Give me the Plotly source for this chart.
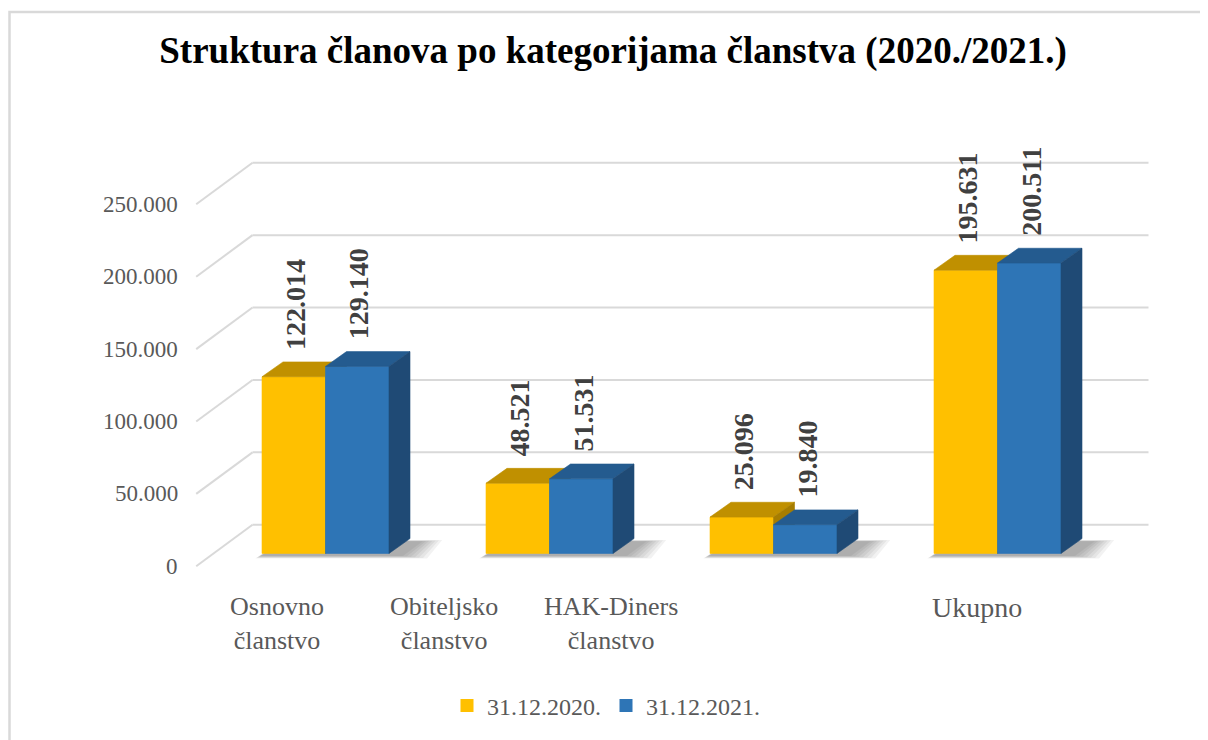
import plotly.graph_objects as go

# ---------------- data ----------------
categories = ["Osnovno članstvo", "Obiteljsko članstvo", "HAK-Diners članstvo", "Ukupno"]
category_lines = ["Osnovno<br>članstvo", "Obiteljsko<br>članstvo", "HAK-Diners<br>članstvo", "Ukupno"]
series_names = ["31.12.2020.", "31.12.2021."]
values_2020 = [122014, 48521, 25096, 195631]
values_2021 = [129140, 51531, 19840, 200511]
tick_values = [0, 50000, 100000, 150000, 200000, 250000]
tick_labels = ["0", "50.000", "100.000", "150.000", "200.000", "250.000"]

# ---------------- layout constants (reference-image pixels) ----------------
PAGE_OFF = 8                      # default body margin of the html page
FIG_W, FIG_H = 1208 - PAGE_OFF, 740 - PAGE_OFF
PLOT_L, PLOT_R, PLOT_T, PLOT_B = 190, 1160, 140, 600   # in page pixels
ML, MR = PLOT_L - PAGE_OFF, 1208 - PLOT_R
MT, MB = PLOT_T - PAGE_OFF, 740 - PLOT_B
PLOT_W = PLOT_R - PLOT_L
PLOT_H = PLOT_B - PLOT_T
PX_PER_CAT = 224.0
CAT0_PX = 325.5
VAL_PER_PX = 50000 / 73.2
ZERO_PX = 558.0

x_range = [(PLOT_L - CAT0_PX) / PX_PER_CAT, (PLOT_R - CAT0_PX) / PX_PER_CAT]
y_range = [-(PLOT_B - ZERO_PX) * VAL_PER_PX, (ZERO_PX - PLOT_T) * VAL_PER_PX]

BAR_W = 0.2835                       # width of one bar (category units)
DX, DY = 21 / PX_PER_CAT, 15 * VAL_PER_PX        # bar depth
BX, BY = 39 / PX_PER_CAT, 29 * VAL_PER_PX        # bar plane -> back wall
FX, FY = -17.3 / PX_PER_CAT, -13 * VAL_PER_PX    # bar plane -> front edge
FLOOR_L, FLOOR_R = -0.5, len(categories) - 0.5
LABEL_X_OFFSET = [-0.217, -0.471, -0.727, -0.092]
LABEL_FONT = [26, 26, 26, 28]

SERIF = "Liberation Serif, Times New Roman, serif"
GRID = "#D9D9D9"
TXT = "#595959"
FRONT = ["#FFC000", "#2E75B6"]
TOP = ["#C09000", "#245B8F"]
SIDE = ["#A67D00", "#1F4A75"]


def px_to_paper_x(px):
    return (px - PLOT_L) / PLOT_W


def px_to_paper_y(py):
    return (PLOT_B - py) / PLOT_H


def polys(list_of_pts):
    xs, ys = [], []
    for pts in list_of_pts:
        for (x, y) in pts:
            xs.append(x)
            ys.append(y)
        xs.append(pts[0][0]); ys.append(pts[0][1])
        xs.append(None); ys.append(None)
    return xs, ys


fig = go.Figure()

# ---------------- soft shadows on the floor ----------------
for k in range(7):
    gx = 0.13 - k * 0.018
    gy = 5000 - k * 650
    shp = []
    for i in range(len(categories)):
        left = i - BAR_W
        right = i + BAR_W
        sx = 0.04
        shp.append([
            (left - 0.03 + k * 0.004, -1200 - gy * 0.45),
            (right + sx + gx, -1200 - gy * 0.45),
            (right + sx + DX + gx * 0.8, DY - 2000 + gy * 0.2),
            (left + DX, DY - 2000 + gy * 0.2),
        ])
    xs, ys = polys(shp)
    fig.add_trace(go.Scatter(x=xs, y=ys, mode="lines", fill="toself",
                             fillcolor="rgba(0,0,0,0.05)", line=dict(width=0),
                             hoverinfo="skip", showlegend=False))

# ---------------- 3D bars ----------------
all_values = [values_2020, values_2021]
for s, vals in enumerate(all_values):
    fronts, tops, sides = [], [], []
    for i, v in enumerate(vals):
        left = i - BAR_W + s * BAR_W
        right = left + BAR_W
        fronts.append([(left, 0), (right, 0), (right, v), (left, v)])
        tops.append([(left, v), (right, v), (right + DX, v + DY), (left + DX, v + DY)])
        sides.append([(right, 0), (right + DX, DY), (right + DX, v + DY), (right, v)])
    for pts, col in [(fronts, FRONT[s]), (tops, TOP[s]), (sides, SIDE[s])]:
        xs, ys = polys(pts)
        fig.add_trace(go.Scatter(x=xs, y=ys, mode="lines", fill="toself",
                                 fillcolor=col, line=dict(width=0.6, color=col),
                                 hoverinfo="skip", showlegend=False))

# legend entries
for s, name in enumerate(series_names):
    fig.add_trace(go.Scatter(x=[None], y=[None], mode="markers", name=name,
                             marker=dict(symbol="square", size=13, color=FRONT[s])))

# ---------------- grid (back wall + left wall) ----------------
shapes = []
for v in tick_values:
    shapes.append(dict(type="line", xref="x", yref="y", layer="below",
                       x0=FLOOR_L + BX, y0=v + BY, x1=FLOOR_R + BX, y1=v + BY,
                       line=dict(color=GRID, width=2)))
    shapes.append(dict(type="line", xref="x", yref="y", layer="below",
                       x0=FLOOR_L + BX, y0=v + BY, x1=FLOOR_L + FX, y1=v + FY,
                       line=dict(color=GRID, width=2)))
# chart border
shapes.append(dict(type="rect", xref="paper", yref="paper",
                   x0=px_to_paper_x(9.5), y0=px_to_paper_y(760),
                   x1=px_to_paper_x(1230), y1=px_to_paper_y(10.5),
                   line=dict(color=GRID, width=2.5), fillcolor="rgba(0,0,0,0)", layer="below"))

annotations = []
# y tick labels on the front edge
for v, t in zip(tick_values, tick_labels):
    annotations.append(dict(x=FLOOR_L + FX, y=v + FY, xref="x", yref="y", text=t,
                            showarrow=False, xanchor="right", yanchor="middle", xshift=-16,
                            font=dict(family=SERIF, size=23, color=TXT)))
# category labels
for i, lab in enumerate(category_lines):
    annotations.append(dict(x=i + LABEL_X_OFFSET[i], y=px_to_paper_y(607), xref="x", yref="paper",
                            text=lab, showarrow=False, xanchor="center", yanchor="top",
                            yshift=12, align="center",
                            font=dict(family=SERIF, size=LABEL_FONT[i], color=TXT)))
# data labels
for s, vals in enumerate(all_values):
    for i, v in enumerate(vals):
        cx = i - BAR_W + s * BAR_W + BAR_W / 2
        annotations.append(dict(x=cx, y=v, xref="x", yref="y",
                                text="<b>" + f"{v:,}".replace(",", ".") + "</b>",
                                showarrow=False, textangle=-90, xanchor="center",
                                yanchor="bottom", yshift=25, xshift=2,
                                font=dict(family=SERIF, size=28, color="#404040")))

fig.update_layout(
    width=FIG_W, height=FIG_H,
    margin=dict(l=ML, r=MR, t=MT, b=MB),
    paper_bgcolor="white", plot_bgcolor="white",
    title=dict(text="<b>Struktura članova po kategorijama članstva (2020./2021.)</b>",
               x=(613 - PAGE_OFF) / FIG_W, xref="container", xanchor="center",
               y=1 - (50 - PAGE_OFF) / FIG_H, yref="container", yanchor="middle",
               font=dict(family=SERIF, size=37, color="black")),
    xaxis=dict(range=x_range, visible=False, fixedrange=True),
    yaxis=dict(range=y_range, visible=False, fixedrange=True),
    showlegend=True,
    legend=dict(orientation="h", x=px_to_paper_x(606), xanchor="center",
                y=px_to_paper_y(712), yanchor="middle",
                font=dict(family=SERIF, size=24, color=TXT),
                itemwidth=30, bgcolor="rgba(0,0,0,0)"),
    shapes=shapes,
    annotations=annotations,
)

fig.write_html("out.html")
